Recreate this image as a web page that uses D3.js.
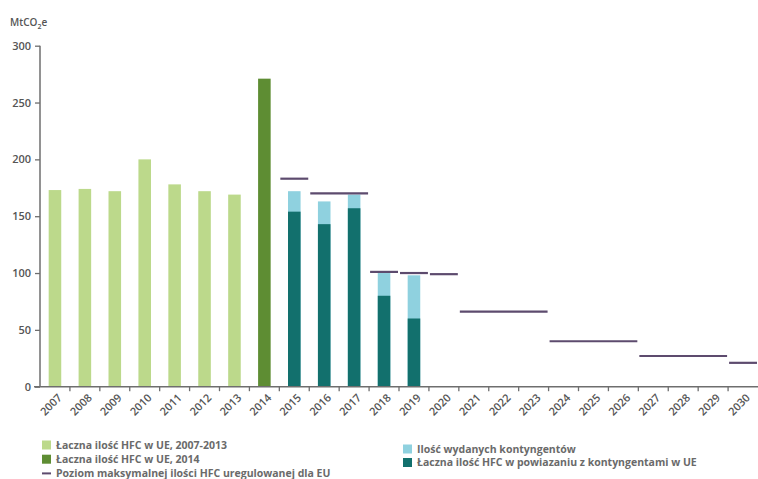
<!DOCTYPE html>
<html>
<head>
<meta charset="utf-8">
<script src="https://cdn.jsdelivr.net/npm/d3@7/dist/d3.min.js"></script>
<style>
  html, body { margin: 0; padding: 0; background: #ffffff; }
  svg { display: block; font-family: "Open Sans", "Noto Sans", sans-serif; }
</style>
</head>
<body>
<svg id="chart" width="758" height="479"></svg>
<script>
// Years on the horizontal axis
const years = d3.range(2007, 2031).map(String);

// Total HFC in the EU, 2007-2013 (MtCO2e)
const histYears = ["2007", "2008", "2009", "2010", "2011", "2012", "2013"];
const histValues = [173, 174, 172, 200, 178, 172, 169];

// Total HFC in the EU, 2014
const year2014 = ["2014"];
const value2014 = [271];

// Quota period: issued quotas and HFC placed on the market under quotas
const quotaYears = ["2015", "2016", "2017", "2018", "2019"];
const quotaIssued = [172, 163, 169, 100, 98];
const quotaHfc = [154, 143, 157, 80, 60];

// Maximum quantity allowed by EU regulation, per period
const capStart = ["2015", "2016", "2018", "2019", "2020", "2021", "2024", "2027", "2030"];
const capEnd   = ["2015", "2017", "2018", "2019", "2020", "2023", "2026", "2029", "2030"];
const capValues = [183, 170, 101, 100, 99, 66, 40, 27, 21];

const yTicks = [0, 50, 100, 150, 200, 250, 300];

const legendLeft = [
  { label: "Łaczna ilość HFC w UE, 2007-2013", color: "#bcd98b", kind: "box" },
  { label: "Łaczna ilość HFC w UE, 2014", color: "#5e8d33", kind: "box" },
  { label: "Poziom maksymalnej ilości HFC uregulowanej dla EU", color: "#5d4b6e", kind: "line" }
];
const legendRight = [
  { label: "Ilość wydanych kontyngentów", color: "#8fd1df", kind: "box" },
  { label: "Łaczna ilość HFC w powiazaniu z kontyngentami w UE", color: "#12706d", kind: "box" }
];

const COL = {
  hist: "#bcd98b",
  y2014: "#5e8d33",
  issued: "#8fd1df",
  hfc: "#12706d",
  cap: "#5d4b6e",
  axis: "#6e6e6e",
  text: "#555555"
};

const svg = d3.select("#chart");
const plotLeft = 40, plotRight = 758, plotTop = 45.7, plotBottom = 386.7;

const x = d3.scaleBand().domain(years).range([plotLeft, plotRight])
  .paddingInner(0.58).paddingOuter(0.29);
const step = x.step();
const bw = x.bandwidth();
const slotStart = d => x(d) - (step - bw) / 2;
const slotEnd = d => slotStart(d) + step;

const y = d3.scaleLinear().domain([0, 300]).range([plotBottom, plotTop]);

// Unit label
const unit = svg.append("text")
  .attr("x", 10).attr("y", 26)
  .attr("font-size", 10).attr("font-weight", 600).attr("fill", COL.text);
unit.append("tspan").text("MtCO");
unit.append("tspan").attr("font-size", 7).attr("dy", 3).text("2");
unit.append("tspan").attr("dy", -3).text("e");

// Bars 2007-2013
svg.append("g").selectAll("rect")
  .data(histYears.map((d, i) => ({ year: d, v: histValues[i] })))
  .join("rect")
  .attr("x", d => x(d.year)).attr("width", bw)
  .attr("y", d => y(d.v)).attr("height", d => y(0) - y(d.v))
  .attr("fill", COL.hist);

// Bar 2014
svg.append("g").selectAll("rect")
  .data(year2014.map((d, i) => ({ year: d, v: value2014[i] })))
  .join("rect")
  .attr("x", d => x(d.year)).attr("width", bw)
  .attr("y", d => y(d.v)).attr("height", d => y(0) - y(d.v))
  .attr("fill", COL.y2014);

// Quota bars: issued quotas behind, HFC under quotas in front
const q = quotaYears.map((d, i) => ({ year: d, issued: quotaIssued[i], hfc: quotaHfc[i] }));
svg.append("g").selectAll("rect")
  .data(q).join("rect")
  .attr("x", d => x(d.year)).attr("width", bw)
  .attr("y", d => y(d.issued)).attr("height", d => y(0) - y(d.issued))
  .attr("fill", COL.issued);
svg.append("g").selectAll("rect")
  .data(q).join("rect")
  .attr("x", d => x(d.year)).attr("width", bw)
  .attr("y", d => y(d.hfc)).attr("height", d => y(0) - y(d.hfc))
  .attr("fill", COL.hfc);

// Regulatory cap lines
svg.append("g").selectAll("line")
  .data(capValues.map((v, i) => ({ s: capStart[i], e: capEnd[i], v })))
  .join("line")
  .attr("x1", d => slotStart(d.s) + 1).attr("x2", d => slotEnd(d.e) - 1)
  .attr("y1", d => y(d.v)).attr("y2", d => y(d.v))
  .attr("stroke", COL.cap).attr("stroke-width", 2.2);

// Y axis
const yAxis = svg.append("g")
  .attr("transform", `translate(${plotLeft},0)`)
  .call(d3.axisLeft(y).tickValues(yTicks).tickSize(5).tickPadding(4));
yAxis.select(".domain").attr("stroke", COL.axis).attr("stroke-width", 1.5)
  .attr("d", `M0,${y(0)}V${y(300)}`);
yAxis.selectAll(".tick line").attr("stroke", COL.axis).attr("stroke-width", 1.3);
yAxis.selectAll(".tick text").attr("fill", COL.text)
  .attr("font-size", 11).attr("font-weight", 600)
  .attr("font-family", "'Open Sans', sans-serif");

// X axis line and ticks at category boundaries
const xg = svg.append("g");
xg.append("line")
  .attr("x1", plotLeft - 6).attr("x2", plotRight)
  .attr("y1", y(0)).attr("y2", y(0))
  .attr("stroke", COL.axis).attr("stroke-width", 1.5);
xg.selectAll("line.tk")
  .data(years.slice(0, -1)).join("line").attr("class", "tk")
  .attr("x1", d => slotEnd(d)).attr("x2", d => slotEnd(d))
  .attr("y1", y(0)).attr("y2", y(0) + 4.5)
  .attr("stroke", COL.axis).attr("stroke-width", 1.3);
xg.selectAll("text")
  .data(years).join("text")
  .attr("transform", d => `translate(${x(d) + bw / 2 + 5},${y(0) + 9}) rotate(-45)`)
  .attr("text-anchor", "end").attr("dy", "0.35em")
  .attr("font-size", 11).attr("font-weight", 600).attr("fill", COL.text)
  .text(d => d);

// Legend
function drawLegend(items, x0, y0, gap) {
  const g = svg.append("g");
  items.forEach((it, i) => {
    const cy = y0 + i * gap;
    if (it.kind === "box") {
      g.append("rect").attr("x", x0).attr("y", cy - 4.5)
        .attr("width", 9).attr("height", 9).attr("fill", it.color);
    } else {
      g.append("line").attr("x1", x0).attr("x2", x0 + 9)
        .attr("y1", cy).attr("y2", cy)
        .attr("stroke", it.color).attr("stroke-width", 2);
    }
    g.append("text").attr("x", x0 + 14).attr("y", cy).attr("dy", "0.35em")
      .attr("font-size", 10.5).attr("font-weight", 700).attr("fill", "#6a6a6a")
      .text(it.label);
  });
}
drawLegend(legendLeft, 42, 445, 14.2);
drawLegend(legendRight, 403, 449, 13.5);
</script>
</body>
</html>
